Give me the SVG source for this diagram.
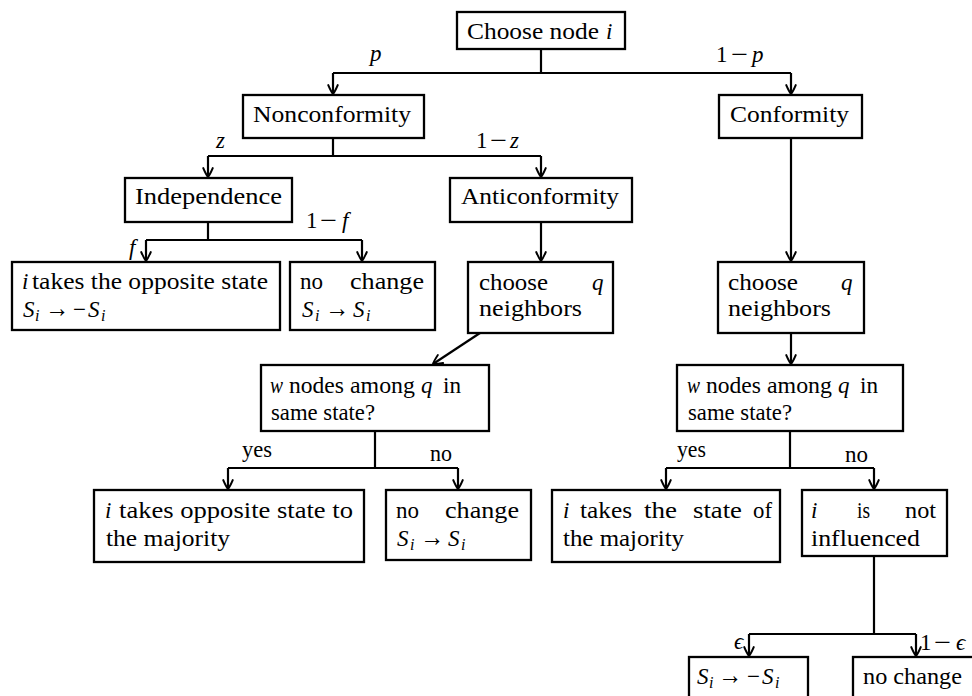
<svg xmlns="http://www.w3.org/2000/svg" width="972" height="696" viewBox="0 0 972 696">
<defs>
<style>
.box{fill:#fff;stroke:#000;stroke-width:2.3}
.ln{fill:none;stroke:#000;stroke-width:2.2}
.ar{fill:none;stroke:#000;stroke-width:2.2;marker-end:url(#arr)}
.t{font-family:"Liberation Serif","Times New Roman","DejaVu Serif",serif;font-size:23px;fill:#000}
.m{font-style:italic}
.s{font-size:16px;font-style:italic}
.r{font-size:27px}
</style>
<marker id="arr" markerUnits="userSpaceOnUse" viewBox="-11 -7 13 14" refX="0" refY="0" markerWidth="13" markerHeight="14" orient="auto" overflow="visible">
<path d="M-9,-4.8 Q-2.5,-2 0,0 Q-2.5,2 -9,4.8" fill="none" stroke="#000" stroke-width="1.9" stroke-linecap="round" stroke-linejoin="round"/>
</marker>
</defs>
<rect width="972" height="696" fill="#fff"/>

<g id="connectors">
<path class="ln" d="M541,49 V73 M333,73 H791"/>
<path class="ar" d="M333,73 V94"/>
<path class="ar" d="M791,73 V94"/>
<path class="ln" d="M333,138 V156 M208,156 H541"/>
<path class="ar" d="M208,156 V177"/>
<path class="ar" d="M541,156 V177"/>
<path class="ln" d="M208,222 V240 M146,240 H362"/>
<path class="ar" d="M146,240 V261"/>
<path class="ar" d="M362,240 V261"/>
<path class="ar" d="M541,222 V261"/>
<path class="ar" d="M791,138 V261"/>
<path class="ar" d="M480,333 L433,364"/>
<path class="ar" d="M791,333 V364"/>
<path class="ln" d="M375,431 V468 M228,468 H458"/>
<path class="ar" d="M228,468 V489"/>
<path class="ar" d="M458,468 V489"/>
<path class="ln" d="M790,431 V468 M666,468 H874"/>
<path class="ar" d="M666,468 V489"/>
<path class="ar" d="M874,468 V489"/>
<path class="ln" d="M874,556 V634 M749,634 H916"/>
<path class="ar" d="M749,634 V656"/>
<path class="ar" d="M916,634 V656"/>
</g>

<g id="edge-labels">
<text class="t m" x="370" y="61">p</text>
<text class="t" x="716" y="62">1</text>
<text class="t" x="731" y="62" textLength="17" lengthAdjust="spacingAndGlyphs">−</text>
<text class="t m" x="752" y="62">p</text>
<text class="t m" x="216" y="148">z</text>
<text class="t" x="476" y="148">1</text>
<text class="t" x="490" y="148" textLength="17" lengthAdjust="spacingAndGlyphs">−</text>
<text class="t m" x="510" y="148">z</text>
<text class="t m" x="129" y="255">f</text>
<text class="t" x="306" y="228">1</text>
<text class="t" x="320" y="228" textLength="17" lengthAdjust="spacingAndGlyphs">−</text>
<text class="t m" x="342" y="228">f</text>
<text class="t" x="242" y="457" textLength="30" lengthAdjust="spacingAndGlyphs">yes</text>
<text class="t" x="430" y="461" textLength="22" lengthAdjust="spacingAndGlyphs">no</text>
<text class="t" x="677" y="457" textLength="29" lengthAdjust="spacingAndGlyphs">yes</text>
<text class="t" x="845" y="462" textLength="23" lengthAdjust="spacingAndGlyphs">no</text>
<text class="t m" x="734" y="649">ϵ</text>
<text class="t" x="920" y="650">1</text>
<text class="t" x="934" y="650" textLength="17" lengthAdjust="spacingAndGlyphs">−</text>
<text class="t m" x="956" y="650">ϵ</text>
</g>

<g id="choose-node">
<rect class="box" x="457" y="12" width="168" height="37"/>
<text class="t" x="467" y="39" textLength="132" lengthAdjust="spacingAndGlyphs">Choose node</text>
<text class="t m" x="606" y="39">i</text>
</g>

<g id="nonconformity">
<rect class="box" x="243" y="95" width="181" height="43"/>
<text class="t" x="253" y="122" textLength="158" lengthAdjust="spacingAndGlyphs">Nonconformity</text>
</g>

<g id="conformity">
<rect class="box" x="719" y="95" width="143" height="43"/>
<text class="t" x="730" y="122" textLength="119" lengthAdjust="spacingAndGlyphs">Conformity</text>
</g>

<g id="independence">
<rect class="box" x="125" y="178" width="167" height="44"/>
<text class="t" x="135" y="204" textLength="147" lengthAdjust="spacingAndGlyphs">Independence</text>
</g>

<g id="anticonformity">
<rect class="box" x="450" y="178" width="182" height="44"/>
<text class="t" x="461" y="204" textLength="158" lengthAdjust="spacingAndGlyphs">Anticonformity</text>
</g>

<g id="opposite-state">
<rect class="box" x="12" y="262" width="268" height="68"/>
<text class="t m" x="22" y="289">i</text>
<text class="t" x="32" y="289" textLength="236" lengthAdjust="spacingAndGlyphs">takes the opposite state</text>
<text class="t m" x="23" y="317">S</text>
<text class="t s" x="35" y="321">i</text>
<text class="t r" x="45" y="317" textLength="24" lengthAdjust="spacingAndGlyphs">→</text>
<text class="t" x="73" y="317" textLength="13" lengthAdjust="spacingAndGlyphs">−</text>
<text class="t m" x="88" y="317">S</text>
<text class="t s" x="101" y="321">i</text>
</g>

<g id="no-change-1">
<rect class="box" x="290" y="262" width="145" height="68"/>
<text class="t" x="300" y="289" textLength="23" lengthAdjust="spacingAndGlyphs">no</text>
<text class="t" x="350" y="289" textLength="74" lengthAdjust="spacingAndGlyphs">change</text>
<text class="t m" x="302" y="317">S</text>
<text class="t s" x="315" y="321">i</text>
<text class="t r" x="325" y="317" textLength="24" lengthAdjust="spacingAndGlyphs">→</text>
<text class="t m" x="353" y="317">S</text>
<text class="t s" x="366" y="321">i</text>
</g>

<g id="choose-neighbors-left">
<rect class="box" x="468" y="262" width="145" height="71"/>
<text class="t" x="479" y="290" textLength="69" lengthAdjust="spacingAndGlyphs">choose</text>
<text class="t m" x="592" y="290">q</text>
<text class="t" x="479" y="316" textLength="103" lengthAdjust="spacingAndGlyphs">neighbors</text>
</g>

<g id="choose-neighbors-right">
<rect class="box" x="718" y="262" width="146" height="71"/>
<text class="t" x="728" y="290" textLength="70" lengthAdjust="spacingAndGlyphs">choose</text>
<text class="t m" x="841" y="290">q</text>
<text class="t" x="728" y="316" textLength="103" lengthAdjust="spacingAndGlyphs">neighbors</text>
</g>

<g id="same-state-left">
<rect class="box" x="261" y="365" width="228" height="66"/>
<text class="t m" x="270" y="393" textLength="13" lengthAdjust="spacingAndGlyphs">w</text>
<text class="t" x="289" y="393" textLength="55" lengthAdjust="spacingAndGlyphs">nodes</text>
<text class="t" x="350" y="393" textLength="65" lengthAdjust="spacingAndGlyphs">among</text>
<text class="t m" x="421" y="393">q</text>
<text class="t" x="443" y="393" textLength="18" lengthAdjust="spacingAndGlyphs">in</text>
<text class="t" x="271" y="420" textLength="104" lengthAdjust="spacingAndGlyphs">same state?</text>
</g>

<g id="same-state-right">
<rect class="box" x="677" y="365" width="226" height="66"/>
<text class="t m" x="687" y="393" textLength="13" lengthAdjust="spacingAndGlyphs">w</text>
<text class="t" x="706" y="393" textLength="55" lengthAdjust="spacingAndGlyphs">nodes</text>
<text class="t" x="767" y="393" textLength="65" lengthAdjust="spacingAndGlyphs">among</text>
<text class="t m" x="838" y="393">q</text>
<text class="t" x="860" y="393" textLength="18" lengthAdjust="spacingAndGlyphs">in</text>
<text class="t" x="688" y="420" textLength="104" lengthAdjust="spacingAndGlyphs">same state?</text>
</g>

<g id="opposite-majority">
<rect class="box" x="94" y="490" width="270" height="72"/>
<text class="t m" x="105" y="518">i</text>
<text class="t" x="119" y="518" textLength="234" lengthAdjust="spacingAndGlyphs">takes opposite state to</text>
<text class="t" x="106" y="546" textLength="124" lengthAdjust="spacingAndGlyphs">the majority</text>
</g>

<g id="no-change-2">
<rect class="box" x="386" y="490" width="145" height="70"/>
<text class="t" x="396" y="518" textLength="23" lengthAdjust="spacingAndGlyphs">no</text>
<text class="t" x="445" y="518" textLength="74" lengthAdjust="spacingAndGlyphs">change</text>
<text class="t m" x="397" y="546">S</text>
<text class="t s" x="410" y="550">i</text>
<text class="t r" x="420" y="546" textLength="24" lengthAdjust="spacingAndGlyphs">→</text>
<text class="t m" x="448" y="546">S</text>
<text class="t s" x="461" y="550">i</text>
</g>

<g id="takes-majority">
<rect class="box" x="552" y="490" width="228" height="72"/>
<text class="t m" x="563" y="518">i</text>
<text class="t" x="580" y="518" textLength="52" lengthAdjust="spacingAndGlyphs">takes</text>
<text class="t" x="644" y="518" textLength="33" lengthAdjust="spacingAndGlyphs">the</text>
<text class="t" x="693" y="518" textLength="49" lengthAdjust="spacingAndGlyphs">state</text>
<text class="t" x="753" y="518" textLength="19" lengthAdjust="spacingAndGlyphs">of</text>
<text class="t" x="563" y="546" textLength="121" lengthAdjust="spacingAndGlyphs">the majority</text>
</g>

<g id="not-influenced">
<rect class="box" x="802" y="490" width="145" height="66"/>
<text class="t m" x="811" y="518">i</text>
<text class="t" x="857" y="518" textLength="13" lengthAdjust="spacingAndGlyphs">is</text>
<text class="t" x="905" y="518" textLength="31" lengthAdjust="spacingAndGlyphs">not</text>
<text class="t" x="811" y="546" textLength="109" lengthAdjust="spacingAndGlyphs">influenced</text>
</g>

<g id="flip-state">
<rect class="box" x="689" y="657" width="119" height="50"/>
<text class="t m" x="697" y="684">S</text>
<text class="t s" x="709" y="688">i</text>
<text class="t r" x="718" y="684" textLength="24" lengthAdjust="spacingAndGlyphs">→</text>
<text class="t" x="747" y="684" textLength="13" lengthAdjust="spacingAndGlyphs">−</text>
<text class="t m" x="762" y="684">S</text>
<text class="t s" x="775" y="688">i</text>
</g>

<g id="no-change-3">
<rect class="box" x="853" y="657" width="130" height="50"/>
<text class="t" x="863" y="684" textLength="99" lengthAdjust="spacingAndGlyphs">no change</text>
</g>
</svg>
